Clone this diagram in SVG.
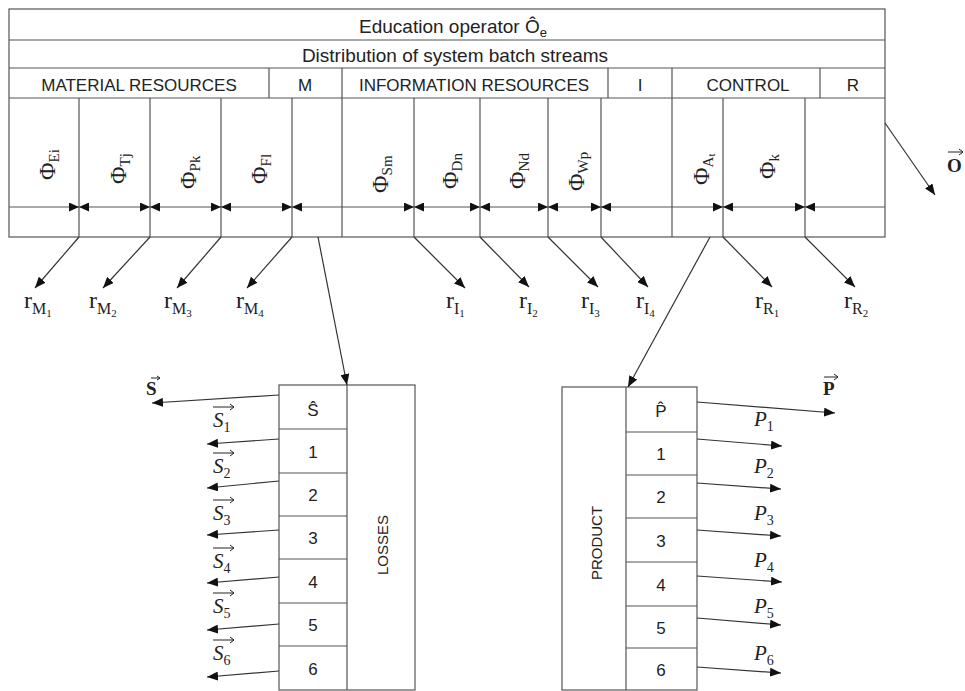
<svg xmlns="http://www.w3.org/2000/svg" width="965" height="691" viewBox="0 0 965 691">
<style>
.ln{stroke:#555;stroke-width:1.2;fill:none}
.bx{stroke:#555;stroke-width:1.2;fill:#fff}
.t{font-family:"Liberation Sans",Arial,sans-serif;fill:#222}
.hd{font-size:19px;text-anchor:middle}
.cap{font-size:17px;text-anchor:middle}
.num{font-size:17px;text-anchor:middle}
.s{font-family:"Liberation Serif","DejaVu Serif",serif;fill:#222}
.phi{font-size:24px}
.sub{font-size:15px}
.r{font-size:24px}
.rs{font-size:16px}
.rss{font-size:11px}
.it{font-style:italic;font-size:21px}
.up{font-style:normal;font-size:14px}
.bd{font-weight:bold;font-size:19px}
.ar{stroke:#333;stroke-width:1.2;fill:none}
.ov{stroke:#222;stroke-width:1;fill:none}
</style>
<defs>
<marker id="ah" viewBox="0 0 11 9" refX="11" refY="4.5" markerWidth="11" markerHeight="9" markerUnits="userSpaceOnUse" orient="auto-start-reverse"><path d="M0,0 L11,4.5 L0,9 z" fill="#111"/></marker>
<marker id="as" viewBox="0 0 10 9" refX="10" refY="4.5" markerWidth="10" markerHeight="9" markerUnits="userSpaceOnUse" orient="auto-start-reverse"><path d="M0,0 L10,4.5 L0,9 z" fill="#111"/></marker>
</defs>
<rect width="965" height="691" fill="#fff"/>

<g id="header">
<rect class="bx" x="9" y="9" width="876" height="228"/>
<path class="ln" d="M9,40 H885 M9,68 H885 M9,98 H885 M269,68 V98 M342,68 V98 M608,68 V98 M672,68 V98 M820,68 V98"/>
<text class="t hd" x="453" y="33">Education operator Ô<tspan font-size="13" dy="4">e</tspan></text>
<text class="t hd" x="455" y="62">Distribution of system batch streams</text>
<text class="t cap" x="139" y="91">MATERIAL RESOURCES</text>
<text class="t cap" x="305" y="91">M</text>
<text class="t cap" x="474" y="91">INFORMATION RESOURCES</text>
<text class="t cap" x="640" y="91">I</text>
<text class="t cap" x="748" y="91">CONTROL</text>
<text class="t cap" x="853" y="91">R</text>
</g>

<g id="streams">
<path class="ln" d="M79,98 V237 M150,98 V237 M221,98 V237 M292,98 V237 M342,98 V237 M414,98 V237 M480,98 V237 M548,98 V237 M601,98 V237 M672,98 V237 M723,98 V237 M805,98 V237"/>
<g class="ln">
<line x1="9" y1="207" x2="79" y2="207" marker-end="url(#as)"/>
<line x1="79" y1="207" x2="150" y2="207" marker-start="url(#as)" marker-end="url(#as)"/>
<line x1="150" y1="207" x2="221" y2="207" marker-start="url(#as)" marker-end="url(#as)"/>
<line x1="221" y1="207" x2="292" y2="207" marker-start="url(#as)" marker-end="url(#as)"/>
<line x1="292" y1="207" x2="414" y2="207" marker-start="url(#as)" marker-end="url(#as)"/>
<line x1="414" y1="207" x2="480" y2="207" marker-start="url(#as)" marker-end="url(#as)"/>
<line x1="480" y1="207" x2="548" y2="207" marker-start="url(#as)" marker-end="url(#as)"/>
<line x1="548" y1="207" x2="601" y2="207" marker-start="url(#as)" marker-end="url(#as)"/>
<line x1="601" y1="207" x2="723" y2="207" marker-start="url(#as)" marker-end="url(#as)"/>
<line x1="723" y1="207" x2="805" y2="207" marker-start="url(#as)" marker-end="url(#as)"/>
<line x1="805" y1="207" x2="885" y2="207" marker-start="url(#as)"/>
</g>
<text class="s" transform="translate(55,180) rotate(-90)"><tspan class="phi">Φ</tspan><tspan class="sub" dy="4">Ei</tspan></text>
<text class="s" transform="translate(126,184) rotate(-90)"><tspan class="phi">Φ</tspan><tspan class="sub" dy="4">Tj</tspan></text>
<text class="s" transform="translate(196,189) rotate(-90)"><tspan class="phi">Φ</tspan><tspan class="sub" dy="4">Pk</tspan></text>
<text class="s" transform="translate(267,184) rotate(-90)"><tspan class="phi">Φ</tspan><tspan class="sub" dy="4">Fl</tspan></text>
<text class="s" transform="translate(388,193) rotate(-90)"><tspan class="phi">Φ</tspan><tspan class="sub" dy="4">Sm</tspan></text>
<text class="s" transform="translate(458,189) rotate(-90)"><tspan class="phi">Φ</tspan><tspan class="sub" dy="4">Dn</tspan></text>
<text class="s" transform="translate(525,189) rotate(-90)"><tspan class="phi">Φ</tspan><tspan class="sub" dy="4">Nd</tspan></text>
<text class="s" transform="translate(584,191) rotate(-90)"><tspan class="phi">Φ</tspan><tspan class="sub" dy="4">Wp</tspan></text>
<text class="s" transform="translate(709,185) rotate(-90)"><tspan class="phi">Φ</tspan><tspan class="sub" dy="4">A</tspan><tspan font-size="11" dy="2">t</tspan></text>
<text class="s" transform="translate(775,179) rotate(-90)"><tspan class="phi">Φ</tspan><tspan class="sub" dy="4">k</tspan></text>
</g>

<g id="losses">
<rect class="bx" x="279" y="385" width="136" height="305"/>
<path class="ln" d="M347,385 V690 M279,429 H347 M279,473 H347 M279,516 H347 M279,559 H347 M279,603 H347 M279,646 H347"/>
<text class="t num" x="313" y="416">Ŝ</text>
<text class="t num" x="313" y="458">1</text>
<text class="t num" x="313" y="501">2</text>
<text class="t num" x="313" y="544">3</text>
<text class="t num" x="313" y="588">4</text>
<text class="t num" x="313" y="631">5</text>
<text class="t num" x="313" y="675">6</text>
<text class="t" font-size="15" text-anchor="middle" transform="translate(388,545) rotate(-90)">LOSSES</text>
</g>

<g id="product">
<rect class="bx" x="562" y="387" width="135" height="303"/>
<path class="ln" d="M626,387 V690 M626,432 H697 M626,475 H697 M626,518 H697 M626,562 H697 M626,606 H697 M626,648 H697"/>
<text class="t num" x="661" y="417">P&#x302;</text>
<text class="t num" x="661" y="460">1</text>
<text class="t num" x="661" y="503">2</text>
<text class="t num" x="661" y="547">3</text>
<text class="t num" x="661" y="591">4</text>
<text class="t num" x="661" y="634">5</text>
<text class="t num" x="661" y="676">6</text>
<text class="t" font-size="15" text-anchor="middle" transform="translate(602,543) rotate(-90)">PRODUCT</text>
</g>

<g id="connectors" class="ar">
<line x1="885" y1="123" x2="935" y2="195" marker-end="url(#ah)"/>
<line x1="79" y1="237" x2="35" y2="288" marker-end="url(#ah)"/>
<line x1="150" y1="237" x2="103" y2="288" marker-end="url(#ah)"/>
<line x1="221" y1="237" x2="177" y2="288" marker-end="url(#ah)"/>
<line x1="292" y1="237" x2="247" y2="288" marker-end="url(#ah)"/>
<line x1="414" y1="237" x2="465" y2="288" marker-end="url(#ah)"/>
<line x1="480" y1="237" x2="529" y2="287" marker-end="url(#ah)"/>
<line x1="548" y1="237" x2="598" y2="287" marker-end="url(#ah)"/>
<line x1="601" y1="237" x2="648" y2="287" marker-end="url(#ah)"/>
<line x1="723" y1="237" x2="772" y2="287" marker-end="url(#ah)"/>
<line x1="805" y1="237" x2="855" y2="287" marker-end="url(#ah)"/>
<line x1="318" y1="237" x2="347" y2="385" marker-end="url(#ah)"/>
<line x1="710" y1="237" x2="628" y2="387" marker-end="url(#ah)"/>
<line x1="279" y1="395" x2="152" y2="403" marker-end="url(#ah)"/>
<line x1="279" y1="439" x2="207" y2="444" marker-end="url(#ah)"/>
<line x1="279" y1="481" x2="207" y2="488" marker-end="url(#ah)"/>
<line x1="279" y1="530" x2="207" y2="535" marker-end="url(#ah)"/>
<line x1="279" y1="577" x2="207" y2="583" marker-end="url(#ah)"/>
<line x1="279" y1="624" x2="207" y2="630" marker-end="url(#ah)"/>
<line x1="279" y1="671" x2="207" y2="677" marker-end="url(#ah)"/>
<line x1="697" y1="402" x2="835" y2="413" marker-end="url(#ah)"/>
<line x1="697" y1="439" x2="782" y2="446" marker-end="url(#ah)"/>
<line x1="697" y1="483" x2="781" y2="489" marker-end="url(#ah)"/>
<line x1="697" y1="530" x2="781" y2="536" marker-end="url(#ah)"/>
<line x1="697" y1="576" x2="782" y2="582" marker-end="url(#ah)"/>
<line x1="697" y1="618" x2="781" y2="625" marker-end="url(#ah)"/>
<line x1="697" y1="667" x2="781" y2="673" marker-end="url(#ah)"/>
</g>

<g id="labels">
<text class="s" x="24" y="308"><tspan class="r">r</tspan><tspan class="rs" dy="6">M</tspan><tspan class="rss" dy="3">1</tspan></text>
<text class="s" x="89" y="308"><tspan class="r">r</tspan><tspan class="rs" dy="6">M</tspan><tspan class="rss" dy="3">2</tspan></text>
<text class="s" x="164" y="308"><tspan class="r">r</tspan><tspan class="rs" dy="6">M</tspan><tspan class="rss" dy="3">3</tspan></text>
<text class="s" x="236" y="308"><tspan class="r">r</tspan><tspan class="rs" dy="6">M</tspan><tspan class="rss" dy="3">4</tspan></text>
<text class="s" x="446" y="308"><tspan class="r">r</tspan><tspan class="rs" dy="6">I</tspan><tspan class="rss" dy="3">1</tspan></text>
<text class="s" x="519" y="308"><tspan class="r">r</tspan><tspan class="rs" dy="6">I</tspan><tspan class="rss" dy="3">2</tspan></text>
<text class="s" x="581" y="308"><tspan class="r">r</tspan><tspan class="rs" dy="6">I</tspan><tspan class="rss" dy="3">3</tspan></text>
<text class="s" x="636" y="308"><tspan class="r">r</tspan><tspan class="rs" dy="6">I</tspan><tspan class="rss" dy="3">4</tspan></text>
<text class="s" x="755" y="308"><tspan class="r">r</tspan><tspan class="rs" dy="6">R</tspan><tspan class="rss" dy="3">1</tspan></text>
<text class="s" x="844" y="308"><tspan class="r">r</tspan><tspan class="rs" dy="6">R</tspan><tspan class="rss" dy="3">2</tspan></text>

<text class="s bd" x="947" y="172">O</text>
<path class="ov" d="M948,152 H963 M959,149 L963,152 L959,155"/>
<text class="s bd" x="146" y="395">S</text>
<path class="ov" d="M151,378 H160 M157,376 L160,378 L157,380"/>
<text class="s bd" x="823" y="395">P</text>
<path class="ov" d="M824,377 H838 M834,374 L838,377 L834,380"/>

<text class="s it" x="213" y="427">S<tspan class="up" dy="5">1</tspan></text>
<text class="s it" x="213" y="473">S<tspan class="up" dy="5">2</tspan></text>
<text class="s it" x="213" y="520">S<tspan class="up" dy="5">3</tspan></text>
<text class="s it" x="213" y="568">S<tspan class="up" dy="5">4</tspan></text>
<text class="s it" x="213" y="613">S<tspan class="up" dy="5">5</tspan></text>
<text class="s it" x="213" y="660">S<tspan class="up" dy="5">6</tspan></text>
<path class="ov" d="M213,407 H234 M230,404 L234,407 L230,410 M213,453 H234 M230,450 L234,453 L230,456 M213,500 H234 M230,497 L234,500 L230,503 M213,548 H234 M230,545 L234,548 L230,551 M213,593 H234 M230,590 L234,593 L230,596 M213,640 H234 M230,637 L234,640 L230,643"/>

<text class="s it" x="754" y="426">P<tspan class="up" dy="5">1</tspan></text>
<text class="s it" x="754" y="473">P<tspan class="up" dy="5">2</tspan></text>
<text class="s it" x="754" y="520">P<tspan class="up" dy="5">3</tspan></text>
<text class="s it" x="754" y="567">P<tspan class="up" dy="5">4</tspan></text>
<text class="s it" x="754" y="613">P<tspan class="up" dy="5">5</tspan></text>
<text class="s it" x="754" y="660">P<tspan class="up" dy="5">6</tspan></text>
</g>
</svg>
